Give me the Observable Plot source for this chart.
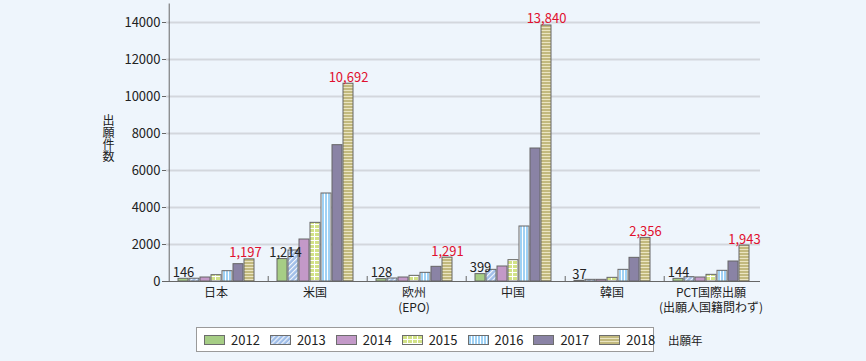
<!DOCTYPE html>
<html><head><meta charset="utf-8">
<script src="https://cdn.jsdelivr.net/npm/d3@7"></script>
<script src="https://cdn.jsdelivr.net/npm/@observablehq/plot@0.6"></script>
<style>
html,body{margin:0;padding:0;background:#eef5fc;}
body{font-family:"Noto Sans CJK JP","Noto Sans",sans-serif;color:#222;}
#wrap{position:relative;width:866px;height:361px;overflow:hidden;}
#chart{position:absolute;left:0;top:0;}
#ylabel{position:absolute;left:102px;top:114px;font-size:12px;line-height:12px;writing-mode:vertical-rl;text-orientation:upright;letter-spacing:0;}
#legend{position:absolute;left:196px;top:327px;width:458px;height:25px;border:1px solid #9a9a9a;background:#fff;display:flex;align-items:center;box-sizing:border-box;padding-left:7px;font-size:13px;}
#legend .item{display:flex;align-items:center;margin-right:10px;}
#legend svg{margin-right:6px;display:block;}
#ltitle{position:absolute;left:668px;top:332px;font-size:11.5px;}
</style></head><body>
<svg width="0" height="0" style="position:absolute">
<defs>
<pattern id="p2013" patternUnits="userSpaceOnUse" width="3.5" height="3.5" patternTransform="rotate(45)">
<rect width="3.5" height="3.5" fill="#9fbde8"/><line x1="0.6" y1="0" x2="0.6" y2="3.5" stroke="#fff" stroke-width="1"/>
</pattern>
<pattern id="p2015" patternUnits="userSpaceOnUse" width="5" height="4">
<rect width="5" height="4" fill="#d2e287"/><line x1="0" y1="0.5" x2="5" y2="0.5" stroke="#fff" stroke-width="1"/><line x1="0.5" y1="0" x2="0.5" y2="4" stroke="#fff" stroke-width="1"/>
</pattern>
<pattern id="p2016" patternUnits="userSpaceOnUse" width="3" height="4">
<rect width="3" height="4" fill="#9fd1f4"/><line x1="0.5" y1="0" x2="0.5" y2="4" stroke="#fff" stroke-width="1"/>
</pattern>
<pattern id="p2018" patternUnits="userSpaceOnUse" width="4" height="3">
<rect width="4" height="3" fill="#c2b97e"/><line x1="0" y1="0.5" x2="4" y2="0.5" stroke="#ebe5c2" stroke-width="1"/>
</pattern>
</defs>
</svg>
<div id="wrap"><div id="chart"></div><div id="ylabel">出願件数</div><div id="legend"></div><div id="ltitle">出願年</div></div>
<script>
const countries = ["日本", "米国", "欧州\n(EPO)", "中国", "韓国", "PCT国際出願\n(出願人国籍問わず)"];
const years = ["2012", "2013", "2014", "2015", "2016", "2017", "2018"];
const s2012 = [146, 1214, 128, 399, 37, 144];
const s2013 = [150, 1676, 162, 630, 90, 234];
const s2014 = [216, 2270, 216, 811, 90, 216];
const s2015 = [342, 3171, 306, 1153, 198, 360];
const s2016 = [558, 4757, 468, 2973, 630, 577];
const s2017 = [937, 7369, 793, 7189, 1279, 1081];
const s2018 = [1197, 10692, 1291, 13840, 2356, 1943];
const yTicks = [0, 2000, 4000, 6000, 8000, 10000, 12000, 14000];
const fills = ["#a6cd85", "url(#p2013)", "#c399c8", "url(#p2015)", "url(#p2016)", "#8a83a5", "url(#p2018)"];

const series = [s2012, s2013, s2014, s2015, s2016, s2017, s2018];
const data = [];
countries.forEach((c, i) => years.forEach((y, j) => data.push({country: c, year: y, value: series[j][i]})));
const fmt = d3.format(",");

const W = 866, H = 320, mL = 166, mR = 106, mT = 3.5, mB = 39;
const pI = 0.106, pO = 0.77;
const facetW = (W - mL - mR) / countries.length;
const step = facetW / (years.length - pI + 2 * pO);
const edgeDx = -(pO * step + (1 - pI) * step / 2);
const yMax = 15000;
const tickH = yMax * 5 / (H - mT - mB);

const first = data.filter(d => d.year === "2012");
const last = data.filter(d => d.year === "2018");
const labelOpts = (dx, fill) => ({fx: "country", x: "year", y: "value", text: d => fmt(d.value), lineAnchor: "bottom", dy: -2, dx, fill, fontSize: 13});

const chart = Plot.plot({
  width: W, height: H,
  marginLeft: mL, marginRight: mR, marginTop: mT, marginBottom: mB,
  style: {background: "transparent", fontFamily: '"Noto Sans CJK JP","Noto Sans",sans-serif', fontSize: "13px", color: "#222"},
  fx: {domain: countries, padding: 0, label: null},
  x: {domain: years, paddingInner: pI, paddingOuter: pO, axis: null},
  y: {domain: [0, yMax], label: null},
  color: {domain: years, range: fills},
  marks: [
    Plot.ruleY(yTicks.slice(1), {stroke: "#d3d7dd", strokeWidth: 2}),
    Plot.barY(data, {fx: "country", x: "year", y: "value", fill: "year", stroke: "#666", strokeWidth: 1}),
    Plot.ruleY([0], {stroke: "#666", strokeWidth: 1}),
    Plot.ruleX(countries.slice(0, 1), {fx: d => d, x: () => "2012", dx: edgeDx, y1: 0, y2: yMax, stroke: "#666"}),
    Plot.ruleX(countries.slice(1), {fx: d => d, x: () => "2012", dx: edgeDx, y1: 0, y2: tickH, stroke: "#666"}),
    Plot.text(first.filter(d => d.country !== countries[1]), labelOpts(0, "#222")),
    Plot.text(first.filter(d => d.country === countries[1]), labelOpts(3, "#222")),
    Plot.text(last.filter(d => d.country !== countries[0]), labelOpts(0, "#e0102e")),
    Plot.text(last.filter(d => d.country === countries[0]), labelOpts(-4, "#e0102e")),
    Plot.axisY({ticks: yTicks, tickSize: 4, tickPadding: 2, label: null, tickFormat: d => String(d), fontSize: 13, stroke: "#666"}),
    Plot.axisFx({anchor: "bottom", tickSize: 0, tickPadding: 6, label: null, fontSize: 12, lineHeight: 1.17})
  ]
});
document.getElementById("chart").appendChild(chart);

const leg = document.getElementById("legend");
years.forEach((y, j) => {
  const it = document.createElement("div");
  it.className = "item";
  it.innerHTML = `<svg width="21" height="10"><rect x="0.5" y="0.5" width="20" height="9" fill="${fills[j]}" stroke="#6d6d6d"/></svg><span>${y}</span>`;
  leg.appendChild(it);
});
</script>
</body></html>
